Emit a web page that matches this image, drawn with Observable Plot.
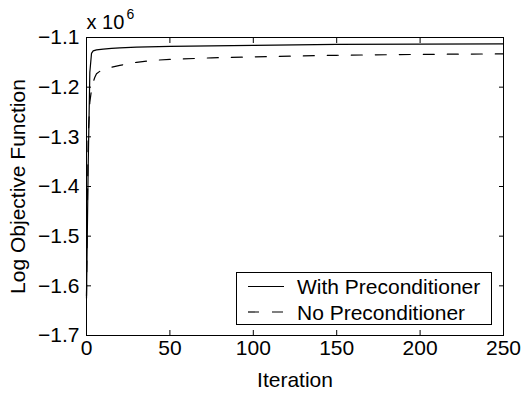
<!DOCTYPE html>
<html>
<head>
<meta charset="utf-8">
<script src="https://cdn.jsdelivr.net/npm/d3@7"></script>
<script src="https://cdn.jsdelivr.net/npm/@observablehq/plot@0.6"></script>
<style>
  html, body { margin: 0; padding: 0; background: #fff; }
  #wrap { position: relative; width: 522px; height: 395px; font-family: "Liberation Sans", Arial, Helvetica, sans-serif; }
  #legend { position: absolute; left: 236px; top: 272px; width: 254px; height: 51px; border: 1px solid #000; background: #fff; }
  #legend svg { display: block; }
</style>
</head>
<body>
<div id="wrap"></div>
<script>
// Iteration numbers and objective values (units of 10^6)
const iterWith = [0, 1, 2, 3, 4, 6, 10, 15, 20, 30, 50, 75, 100, 150, 200, 250];
const valWith  = [-1.625, -1.36, -1.17, -1.132, -1.127, -1.125, -1.1235, -1.122, -1.121, -1.1195, -1.118, -1.1168, -1.116, -1.114, -1.1135, -1.113];

const iterNo = [0, 1, 2, 3, 4, 5, 6, 8, 10, 15, 20, 25, 30, 40, 50, 75, 100, 150, 200, 250];
const valNo  = [-1.62, -1.30, -1.23, -1.205, -1.19, -1.18, -1.173, -1.168, -1.165, -1.160, -1.156, -1.153, -1.150, -1.146, -1.144, -1.141, -1.139, -1.1358, -1.134, -1.133];

const seriesNames = ["With Preconditioner", "No Preconditioner"];

const xTicks = [0, 50, 100, 150, 200, 250];
const xTickLabels = ["0", "50", "100", "150", "200", "250"];
const yTicks = [-1.7, -1.6, -1.5, -1.4, -1.3, -1.2, -1.1];
const yTickLabels = ["\u22121.7", "\u22121.6", "\u22121.5", "\u22121.4", "\u22121.3", "\u22121.2", "\u22121.1"];

const xLabel = "Iteration";
const yLabel = "Log Objective Function";
const scaleBase = "x 10";
const scaleExp = "6";

const withData = iterWith.map((x, i) => ({x, y: valWith[i]}));
const noData = iterNo.map((x, i) => ({x, y: valNo[i]}));

const font = "Liberation Sans, Arial, Helvetica, sans-serif";
const fs = 21;
const dash = "11,13";

const xfmt = d => xTickLabels[xTicks.indexOf(d)];
const yfmt = d => yTickLabels[yTicks.findIndex(t => Math.abs(t - d) < 1e-9)];
const blank = () => "";

const chart = Plot.plot({
  width: 522,
  height: 395,
  marginLeft: 86,
  marginRight: 19,
  marginTop: 37,
  marginBottom: 60,
  style: {fontFamily: font, fontSize: fs + "px", background: "#fff", color: "#000", overflow: "visible"},
  x: {domain: [0, 250]},
  y: {domain: [-1.7, -1.1]},
  marks: [
    Plot.frame({stroke: "#000", strokeWidth: 1}),
    // labels
    Plot.axisX({anchor: "bottom", ticks: xTicks, tickFormat: xfmt, tickSize: 0, tickPadding: 5, fontSize: fs,
      label: xLabel, labelAnchor: "center", labelArrow: "none", labelOffset: 51}),
    Plot.axisY({anchor: "left", ticks: yTicks, tickFormat: yfmt, tickSize: 0, tickPadding: 7, fontSize: fs,
      label: yLabel, labelAnchor: "center", labelArrow: "none", labelOffset: 76}),
    // inward ticks on all four sides
    Plot.axisX({anchor: "bottom", ticks: xTicks, tickFormat: blank, tickSize: 5, dy: -5, label: null}),
    Plot.axisX({anchor: "top", ticks: xTicks, tickFormat: blank, tickSize: 5, dy: 5, label: null}),
    Plot.axisY({anchor: "left", ticks: yTicks, tickFormat: blank, tickSize: 5, dx: 5, label: null}),
    Plot.axisY({anchor: "right", ticks: yTicks, tickFormat: blank, tickSize: 5, dx: -5, label: null}),
    // data
    Plot.line(withData, {x: "x", y: "y", stroke: "#000", strokeWidth: 1.2}),
    Plot.line(noData, {x: "x", y: "y", stroke: "#000", strokeWidth: 1.2, strokeDasharray: dash}),
    // exponent
    Plot.text([scaleBase], {frameAnchor: "top-left", text: d => d, textAnchor: "start", lineAnchor: "bottom", dx: 0, dy: -9, fontSize: 20, fill: "#000"}),
    Plot.text([scaleExp], {frameAnchor: "top-left", text: d => d, textAnchor: "start", lineAnchor: "bottom", dx: 40, dy: -19, fontSize: 14, fill: "#000"})
  ]
});

const wrap = document.getElementById("wrap");
wrap.appendChild(chart);

// legend
const legend = document.createElement("div");
legend.id = "legend";
const ns = "http://www.w3.org/2000/svg";
const lsvg = document.createElementNS(ns, "svg");
lsvg.setAttribute("width", 254);
lsvg.setAttribute("height", 51);
seriesNames.forEach((name, i) => {
  const yy = 13.5 + i * 25.5;
  const ln = document.createElementNS(ns, "line");
  ln.setAttribute("x1", 11); ln.setAttribute("x2", 47);
  ln.setAttribute("y1", yy); ln.setAttribute("y2", yy);
  ln.setAttribute("stroke", "#000"); ln.setAttribute("stroke-width", 1.2);
  if (i === 1) ln.setAttribute("stroke-dasharray", dash);
  lsvg.appendChild(ln);
  const tx = document.createElementNS(ns, "text");
  tx.setAttribute("x", 60);
  tx.setAttribute("y", yy + 7.5);
  tx.setAttribute("font-family", font);
  tx.setAttribute("font-size", fs);
  tx.setAttribute("fill", "#000");
  tx.textContent = name;
  lsvg.appendChild(tx);
});
legend.appendChild(lsvg);
wrap.appendChild(legend);
</script>
</body>
</html>
